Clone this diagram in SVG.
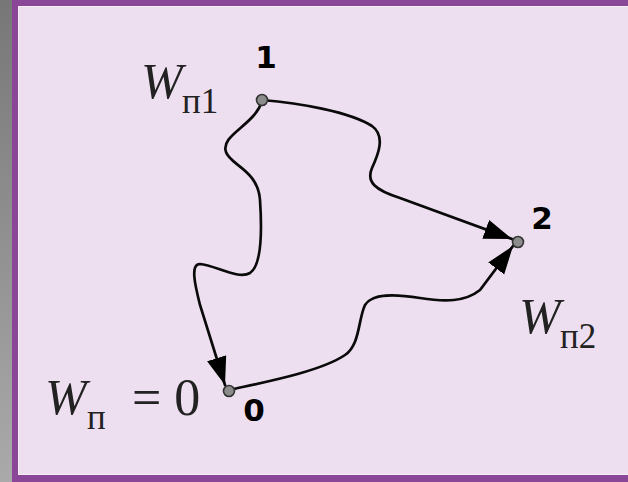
<svg xmlns="http://www.w3.org/2000/svg" width="628" height="482" viewBox="0 0 628 482">
<defs>
<linearGradient id="side" x1="0" y1="0" x2="0" y2="1">
<stop offset="0" stop-color="#777777"/>
<stop offset="1" stop-color="#aaaaaa"/>
</linearGradient>
<marker id="arr" markerUnits="userSpaceOnUse" markerWidth="32" markerHeight="22" refX="28" refY="10" orient="auto">
<path d="M0,0 L28,10 L0,20 z" fill="#000"/>
</marker>
</defs>
<style>
.edge{fill:none;stroke:#0a0a0a;stroke-width:2.7;stroke-linecap:round;marker-end:url(#arr)}
.pt{fill:#8c8c8c;stroke:#333;stroke-width:1.6}
.num{font-family:"DejaVu Sans",sans-serif;font-weight:bold;font-size:31px;fill:#000;text-anchor:middle}
.w{font-family:"Liberation Serif",serif;font-style:italic;font-size:50px;fill:#222}
.sub{font-family:"Liberation Serif",serif;font-size:35px;fill:#222}
.eq{font-family:"Liberation Serif",serif;font-size:52px;fill:#222}
</style>
<rect x="0" y="0" width="12" height="482" fill="url(#side)"/>
<rect x="12" y="0" width="616" height="482" fill="#8a4697"/>
<rect x="18.5" y="6.5" width="615" height="468" fill="#eedff0" stroke="#f6eef7" stroke-width="1"/>
<g id="connectors">
<path class="edge" d="M262,100 C300,103 350,112 372,126 C386,136 378,155 372,168 C366,182 375,190 400,198 L512,239"/>
<path class="edge" d="M262,101 C255,125 220,135 226,152 C230,165 258,170 260,200 C262,230 262,265 250,273 C238,280 215,265 200,264 C190,264 195,285 200,305 L225,385"/>
<path class="edge" d="M229,390 C260,383 320,372 345,355 C360,345 358,320 365,305 C372,293 395,294 420,298 C445,302 465,302 480,290 L513,246"/>
</g>
<g id="node1">
<circle class="pt" cx="262" cy="100" r="5.5"/>
<text class="num" x="266" y="68">1</text>
<text class="w" x="141" y="98">W</text>
<text class="sub" x="182" y="113">п1</text>
</g>
<g id="node2">
<circle class="pt" cx="518" cy="242" r="5.5"/>
<text class="num" x="542" y="229">2</text>
<text class="w" x="519" y="333">W</text>
<text class="sub" x="560" y="348">п2</text>
</g>
<g id="node0">
<circle class="pt" cx="229" cy="391" r="5.5"/>
<text class="num" x="254" y="421">0</text>
<text class="w" x="45" y="414">W</text>
<text class="sub" x="87" y="429">п</text>
<text class="eq" x="132" y="415">= 0</text>
</g>
</svg>
